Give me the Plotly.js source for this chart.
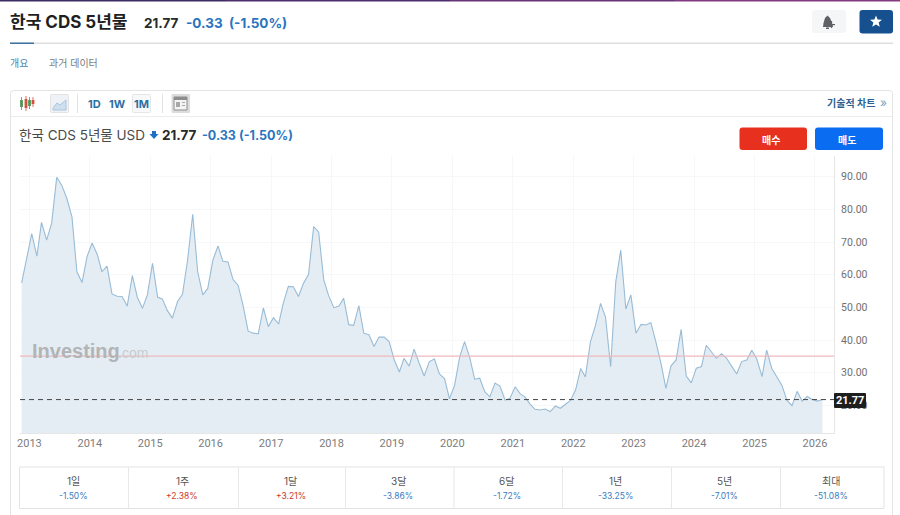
<!DOCTYPE html>
<html>
<head>
<meta charset="utf-8">
<script src="https://cdn.plot.ly/plotly-3.0.1.min.js"></script>
<style>html,body{margin:0;padding:0;background:#fff;overflow:hidden}#c{width:900px;height:515px}</style>
</head>
<body>
<div id="c"></div>
<script>
var cdsValues = [
57.5,65.5,72.6,65.7,76.0,70.6,75.7,89.8,87.4,83.4,77.7,60.9,57.6,65.5,69.7,66.2,60.9,62.6,54.1,53.4,53.3,50.4,59.7,53.1,49.7,53.8,63.5,53.1,52.6,49.0,46.7,51.8,54.0,64.5,78.5,60.9,53.8,55.8,64.5,68.8,64.1,63.9,58.6,56.8,50.7,42.7,42.1,41.9,49.8,44.1,46.8,44.9,51.2,56.4,56.3,53.3,
57.3,60.1,74.7,73.1,58.4,53.5,49.9,50.4,52.8,44.7,44.5,50.5,42.1,41.6,38.0,40.9,40.9,39.5,33.9,30.2,34.4,32.0,37.2,32.9,29.0,33.4,34.2,29.6,28.2,22.0,26.2,34.9,39.5,34.7,28.0,28.3,24.2,22.6,26.8,25.9,21.6,22.2,25.7,23.5,22.6,20.4,18.8,18.6,18.9,18.1,19.8,19.1,20.3,21.5,24.7,31.3,28.7,39.5,44.4,51.2,
47.0,31.8,57.9,67.5,49.5,53.8,42.1,44.8,44.6,45.3,39.5,32.9,25.2,32.1,33.9,43.3,29.0,26.9,31.4,31.9,38.4,36.5,34.4,35.8,34.5,32.0,29.6,33.4,33.9,36.9,34.1,28.8,36.9,31.3,28.8,26.2,21.6,19.9,24.3,21.3,22.7,21.8,21.3,21.77];
var startYear = 2012, startMonth = 11;
var yearLabels = ["2013","2014","2015","2016","2017","2018","2019","2020","2021","2022","2023","2024","2025","2026"];
var priceTicks = [20,30,40,50,60,70,80,90];
var lastPrice = 21.77;
var referenceLevel = 35.1;
var periodLabels = ["1일","1주","1달","3달","6달","1년","5년","최대"];
var periodChanges = ["-1.50%","+2.38%","+3.21%","-3.86%","-1.72%","-33.25%","-7.01%","-51.08%"];

var dates = cdsValues.map(function(_, i){
  var m = startMonth - 1 + i;
  var y = startYear + Math.floor(m / 12);
  var mm = (m % 12) + 1;
  return y + "-" + (mm < 10 ? "0" : "") + mm + "-15";
});

var W = 900, H = 515, L = 20, R = 834, T = 156, B = 433;
function px(x){ return (x - L) / (R - L); }
function py(y){ return (B - y) / (B - T); }
var shapes = [], annos = [];
var KR = "Inter, 'Noto Sans CJK KR', sans-serif";
function rect(x0,y0,x1,y1,fill,line,lw){
  shapes.push({type:"rect",xref:"paper",yref:"paper",x0:px(x0),x1:px(x1),y0:py(y0),y1:py(y1),
    fillcolor:fill||"rgba(0,0,0,0)",line:{color:line||"rgba(0,0,0,0)",width:line?(lw||1):0},layer:"above"});
}
function rrect(x0,y0,x1,y1,r,fill,line){
  function P(x,y){ return px(x)+","+py(y); }
  var d = "M"+P(x0+r,y0)+" L"+P(x1-r,y0)+" Q"+P(x1,y0)+" "+P(x1,y0+r)+" L"+P(x1,y1-r)+" Q"+P(x1,y1)+" "+P(x1-r,y1)+
          " L"+P(x0+r,y1)+" Q"+P(x0,y1)+" "+P(x0,y1-r)+" L"+P(x0,y0+r)+" Q"+P(x0,y0)+" "+P(x0+r,y0)+" Z";
  shapes.push({type:"path",xref:"paper",yref:"paper",path:d,fillcolor:fill||"rgba(0,0,0,0)",
    line:{color:line||"rgba(0,0,0,0)",width:line?1:0},layer:"above"});
}
function poly(pts,fill,line){
  var d = pts.map(function(p,i){ return (i?"L":"M")+px(p[0])+","+py(p[1]); }).join(" ")+(fill?" Z":"");
  shapes.push({type:"path",xref:"paper",yref:"paper",path:d,fillcolor:fill||"rgba(0,0,0,0)",
    line:{color:line||"rgba(0,0,0,0)",width:line?1:0},layer:"above"});
}
function text(s,x,y,size,color,anchor,bold,fam){
  annos.push({xref:"paper",yref:"paper",x:px(x),y:py(y),text:bold?"<b>"+s+"</b>":s,showarrow:false,
    xanchor:anchor||"left",yanchor:"middle",borderpad:0,borderwidth:0,
    font:{size:size,color:color,family:fam||KR}});
}

// top bar
rect(0,0,225,1.5,"#3c2c62"); rect(225,0,450,1.5,"#4e2f6e"); rect(450,0,675,1.5,"#693478"); rect(675,0,900,1.5,"#843a80");
// header
text("한국 CDS 5년물",10,22,17,"#1f1f1f","left",true);
text("21.77",144,23,13.5,"#2a2a2a","left",true);
text("-0.33",186,23,13.5,"#2b74c0","left",true);
text("(-1.50%)",229,23,13.5,"#2b74c0","left",true);
rect(10,42.5,893,44,"#dedede"); rect(10,42.5,34,44,"#3b73a3");
text("개요",10,62.5,10,"#4d85ad"); text("과거 데이터",49,62.5,10,"#7a7a7a");
// bell and star
rrect(812,10,846,33,3,"#f5f6f7");
poly([[823,27],[823.5,23],[825,18],[827.5,15.5],[830,18],[832,23],[833,27]],"#5f6066");
rect(826,27.5,829,29,"#5f6066"); rect(828,24,835,25.2,"#5f6066"); rect(830.9,21,832.1,28,"#5f6066");
rrect(859.5,10,893,33.5,3,"#17508f");
poly([[876,15.5],[877.6,19.6],[882,19.8],[878.6,22.5],[879.8,26.8],[876,24.4],[872.2,26.8],[873.4,22.5],[870,19.8],[874.4,19.6]],"#ffffff");
// chart container
rrect(10.5,90.5,892.5,530,3,null,"#e4e4e4");
rect(11,116,892,117,"#ececec");
// toolbar
[[21.5,"#4d9a55"],[26,"#d65040"],[29.5,"#4d9a55"],[33,"#d65040"]].forEach(function(c,i){
  var t = [97,96,97,97][i], b = [110,111,109,107][i];
  rect(c[0]-0.4,t,c[0]+0.4,b,c[1]); rect(c[0]-1.4,t+3,c[0]+1.4,b-3,c[1]);
});
rrect(50.5,94.5,68.5,112.5,1,"#eef2f7","#e3e3e3");
poly([[53,108],[57,103],[60,105],[66,100],[66,110],[53,110]],"#cfdfee","#a9c4dc");
rect(77,94,78,113,"#e3e3e3");
text("1D",94,103.5,11,"#2f6ea5","center",true);
text("1W",117,103.5,11,"#2f6ea5","center",true);
rrect(132.5,94.5,150.5,112.5,1,"#f7f8f9","#e6e6e6");
text("1M",141,103.5,11,"#2f6ea5","center",true);
rect(162,94,163,113,"#e3e3e3");
rrect(171.5,94,190,113,1,"#dcdcdc");
rect(174,97,187,110,"#f4f4f4","#8e8e8e");
rect(174,97,187,100,"#8e8e8e"); rect(176,102,180,107,"#a8a8a8"); rect(182,102,185,103,"#a8a8a8"); rect(182,105,185,106,"#a8a8a8");
text("기술적 차트",875,103,10,"#2f5f90","right",true);
text("»",887,103,12,"#7d9fc0","right");
// chart head
text("한국 CDS 5년물 USD",19,135,13.5,"#4a4a4a");
poly([[149.5,134],[152,134],[152,131],[156,131],[156,134],[158.5,134],[154,139]],"#1f6fc4");
text("21.77",162,135,13.5,"#2a2a2a","left",true);
text("-0.33",202,135,12.5,"#2b74c0","left",true);
text("(-1.50%)",239,135,12.5,"#2b74c0","left",true);
// buy / sell
rrect(739.5,127.5,807,150,3,"#e8301f");
text("매수",771,139.5,10,"#ffffff","center",true);
rrect(815,127.5,883,150,3,"#0a6cf0");
text("매도",847,139.5,10,"#ffffff","center",true);
// watermark
text("Investing",32,351,20,"#b2b4b6","left",true,"'Liberation Sans', Arial, sans-serif");
text(".com",118,353,14,"#c9cccf","left",false,"'Liberation Sans', Arial, sans-serif");
// last price line & reference line
shapes.push({type:"line",xref:"paper",yref:"y",x0:0,x1:1,y0:referenceLevel,y1:referenceLevel,line:{color:"#efb9bc",width:1.3},layer:"above"});
shapes.push({type:"line",xref:"paper",yref:"y",x0:0,x1:1,y0:lastPrice,y1:lastPrice,line:{color:"#444444",width:1,dash:"5px,4px"},layer:"above"});
rrect(834,393,866,408,1,"#1e1e1e");
annos.push({xref:"paper",yref:"paper",x:px(850),y:py(400.5),text:"<b>"+lastPrice.toFixed(2)+"</b>",showarrow:false,xanchor:"center",yanchor:"middle",borderpad:0,
  font:{size:11,color:"#ffffff",family:"Roboto, sans-serif"}});
// period table
var tableEdges = [20,128,238,345,453.5,562,671,780,884];
rect(19.5,467,884,508.5,"#ffffff","#e3e3e3");
tableEdges.slice(1,-1).forEach(function(x){ rect(x,467,x+1,508.5,"#e8e8e8"); });
periodLabels.forEach(function(lab,i){
  var cx = (tableEdges[i]+tableEdges[i+1])/2;
  text(lab,cx-1,481,10,"#555555","center");
  var ch = periodChanges[i];
  text(ch,cx-1,496,8.5,ch.charAt(0)==="+"?"#c8392b":"#3a7dbf","center");
});

var traces = [{
  x:dates, y:cdsValues, type:"scatter", mode:"lines", fill:"tozeroy",
  fillcolor:"#e5edf4", line:{color:"#98bcd6",width:1.1}, hoverinfo:"skip"
}];
var layout = {
  width:W, height:H, margin:{l:L,r:W-R,t:T,b:H-B,pad:0}, autosize:false,
  paper_bgcolor:"#ffffff", plot_bgcolor:"#ffffff", showlegend:false, hovermode:false,
  xaxis:{type:"date",range:["2012-11-05","2026-04-26"],tickmode:"array",
    tickvals:yearLabels.map(function(y){return y+"-01-01";}),ticktext:yearLabels,
    showgrid:true,gridcolor:"#f6f7f8",gridwidth:1,zeroline:false,showline:true,linecolor:"#e6e6e6",
    ticks:"",tickfont:{family:"Roboto, sans-serif",size:11,color:"#7c7c7c"},fixedrange:true},
  yaxis:{side:"right",range:[11.54,96.33],tickmode:"array",tickvals:priceTicks,
    ticktext:priceTicks.map(function(v){return v.toFixed(2);}),
    showgrid:true,gridcolor:"#f6f7f8",gridwidth:1,zeroline:false,showline:true,linecolor:"#e6e6e6",
    ticks:"",ticklen:0,ticklabelstandoff:4,tickfont:{family:"Roboto, sans-serif",size:10.5,color:"#6f6f6f"},fixedrange:true},
  shapes:shapes, annotations:annos
};
Plotly.newPlot("c",traces,layout,{displayModeBar:false,staticPlot:true});
</script>
</body>
</html>
